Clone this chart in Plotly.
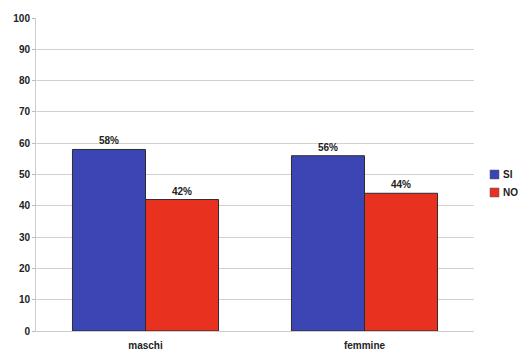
import plotly.graph_objects as go

categories = ["maschi", "femmine"]
si_values = [58, 56]
no_values = [42, 44]
series_names = ["SI", "NO"]
series_colors = ["#3b46b4", "#e8321f"]
y_ticks = [0, 10, 20, 30, 40, 50, 60, 70, 80, 90, 100]

font_family = "Liberation Sans, Arial, sans-serif"

W, H = 520, 352
ML, MR, MT, MB = 36, 46, 18, 21
plot_w = W - ML - MR
plot_h = H - MT - MB

fig = go.Figure()
for name, vals, color in zip(series_names, [si_values, no_values], series_colors):
    fig.add_trace(go.Bar(
        name=name, x=categories, y=vals,
        marker=dict(color=color, line=dict(color="#2e2a34", width=1)),
        text=[f"{v}%" for v in vals], textposition="outside",
        textfont=dict(size=10, color="#222222", family=font_family, weight="bold"),
        cliponaxis=False,
    ))

# Legend drawn as small swatches next to the plot area
def px_to_paper_x(px):
    return (px - ML) / plot_w

def px_to_paper_y(py):
    return (H - MB - py) / plot_h

swatch_x0, swatch_size = 490, 9
swatch_tops = [170, 188]
for name, color, top in zip(series_names, series_colors, swatch_tops):
    fig.add_shape(
        type="rect", xref="paper", yref="paper",
        x0=px_to_paper_x(swatch_x0), x1=px_to_paper_x(swatch_x0 + swatch_size),
        y0=px_to_paper_y(top + swatch_size), y1=px_to_paper_y(top),
        fillcolor=color, line=dict(color="#555566", width=0.5),
    )
    fig.add_annotation(
        xref="paper", yref="paper",
        x=px_to_paper_x(swatch_x0 + swatch_size + 2), y=px_to_paper_y(top + swatch_size / 2),
        xanchor="left", yanchor="middle", showarrow=False,
        text=name, font=dict(size=10, weight="bold", color="#222222", family=font_family),
    )

fig.update_layout(
    width=W, height=H,
    margin=dict(l=ML, r=MR, t=MT, b=MB, autoexpand=False),
    paper_bgcolor="white", plot_bgcolor="white",
    barmode="group", bargap=0.333, bargroupgap=0,
    font=dict(family=font_family, size=10, color="#222222"),
    showlegend=False,
)
fig.update_yaxes(
    range=[0, 100], tickvals=y_ticks,
    showgrid=True, gridcolor="#d6d0c6", gridwidth=1,
    showline=True, linecolor="#cccccc", linewidth=1,
    ticks="outside", ticklen=3, tickcolor="#bbbbbb",
    tickfont=dict(size=10, weight="bold", color="#222222"),
    zeroline=False,
)
fig.update_xaxes(
    showline=True, linecolor="#cccccc", linewidth=1,
    ticks="", ticklabelstandoff=5,
    tickfont=dict(size=10, weight="bold", color="#222222"),
)

fig.write_html("out.html")
